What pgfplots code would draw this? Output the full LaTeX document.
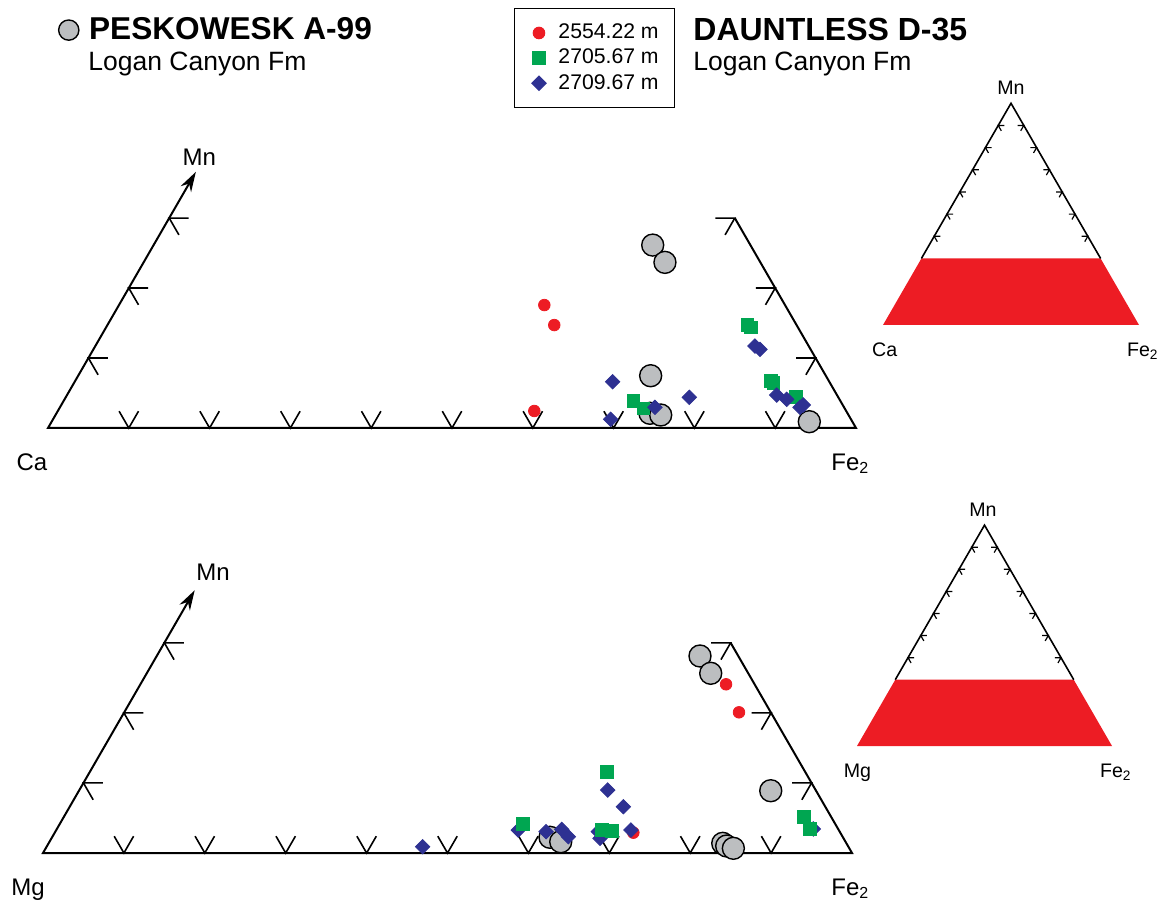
\documentclass[border=0pt]{standalone}
\usepackage{fontspec}
\setmainfont{Liberation Sans}
\usepackage{pgfplots}
\usepackage{pgfplotstable}
\pgfplotsset{compat=1.18}
\usetikzlibrary{arrows.meta}

\definecolor{cred}{HTML}{ED1C24}
\definecolor{cgreen}{HTML}{00A651}
\definecolor{cblue}{HTML}{2E3192}
\definecolor{cgray}{HTML}{BCBEC0}

% compositions in percent: fe = Fe2, mn = Mn (rest = Ca or Mg)
\pgfplotstableread{
fe mn
61.77 26.14
64.52 23.67
70.85 7.47
73.45 2.10
74.90 1.86
93.77 0.90
}\topgray
\pgfplotstableread{
fe mn
52.64 17.57
55.30 14.71
58.97 2.43
}\topred
\pgfplotstableread{
fe mn
79.20 14.71
79.77 14.39
86.06 6.76
86.57 6.39
90.38 4.39
70.49 3.90
72.27 2.81
}\topgreen
\pgfplotstableread{
fe mn
66.58 6.61
69.02 1.24
73.64 2.96
77.17 4.39
81.64 11.71
82.50 11.24
87.83 4.71
89.37 4.10
91.59 2.96
91.83 3.29
}\topblue

\pgfplotstableread{
fe mn
67.15 28.12
69.71 25.65
85.51 8.89
83.33 1.38
84.01 1.00
85.00 0.67
61.55 2.24
63.19 1.61
}\botgray
\pgfplotstableread{
fe mn
72.39 24.08
75.99 20.08
71.52 2.90
}\botred
\pgfplotstableread{
fe mn
57.23 4.14
63.88 11.60
67.42 3.28
68.73 3.14
91.48 5.18
93.10 3.43
}\botgreen
\pgfplotstableread{
fe mn
46.48 0.90
57.11 3.28
60.66 3.04
62.43 3.38
63.77 2.33
65.31 8.99
68.43 6.61
71.04 3.28
67.80 2.10
67.12 3.04
93.50 3.43
}\botblue

\pgfplotsset{
  tern/.style={hide axis, clip=false, xmin=0, xmax=100, ymin=0, ymax=40, anchor=south west},
  table/tx/.style={x expr=\thisrow{fe}+0.5*\thisrow{mn}, y expr=0.8660254*\thisrow{mn}},
  graypts/.style={only marks, mark=*, mark size=5.5pt, mark options={fill=cgray, draw=black, line width=0.7pt}},
  redpts/.style={only marks, mark=*, mark size=2.9pt, color=cred},
  greenpts/.style={only marks, mark=square*, mark size=3.2pt, color=cgreen},
  bluepts/.style={only marks, mark=square*, mark size=2.55pt, color=cblue, mark options={rotate=45}},
}
\tikzset{tk/.style={line width=0.8pt}, stk/.style={line width=0.6pt}}
\newcommand\vtick[1]{\draw[tk] (#1,0) +(-1.2,2.078) -- (#1,0) -- +(1.2,2.078);}
\newcommand\ltick[2]{\draw[tk] (#1,#2) +(2.4,0) -- (#1,#2) -- +(1.2,-2.078);}
\newcommand\rtick[2]{\draw[tk] (#1,#2) +(-2.4,0) -- (#1,#2) -- +(-1.2,-2.078);}
\newcommand\sltick[2]{\draw[stk] (#1,#2) +(2.4,0) -- (#1,#2) -- +(1.2,-2.078);}
\newcommand\srtick[2]{\draw[stk] (#1,#2) +(-2.4,0) -- (#1,#2) -- +(-1.2,-2.078);}
\newcommand\mainframe[1]{%
  \draw[line width=1pt, {Stealth[length=10pt,width=6pt]}-] (#1) -- (0,0) -- (100,0) -- (85,25.981);
  \vtick{10}\vtick{20}\vtick{30}\vtick{40}\vtick{50}\vtick{60}\vtick{70}\vtick{80}\vtick{90}
  \ltick{5}{8.660}\ltick{10}{17.321}\ltick{15}{25.981}
  \rtick{95}{8.660}\rtick{90}{17.321}\rtick{85}{25.981}}
\newcommand\smallframe{%
  \addplot[fill=cred, draw=none] coordinates {(0,0) (100,0) (85,25.981) (15,25.981) (0,0)};
  \draw[line width=0.8pt] (15,25.981) -- (50,86.603) -- (85,25.981);
  \sltick{20}{34.641}\sltick{25}{43.301}\sltick{30}{51.962}\sltick{35}{60.622}\sltick{40}{69.282}\sltick{45}{77.942}
  \srtick{80}{34.641}\srtick{75}{43.301}\srtick{70}{51.962}\srtick{65}{60.622}\srtick{60}{69.282}\srtick{55}{77.942}}

\begin{document}
\begin{tikzpicture}
\path[use as bounding box] (0,0) rectangle (586pt,-454pt);

% ---------- top main ternary (Ca - Fe2 - Mn)
\begin{axis}[tern, at={(24pt,-214pt)}, x=4.04pt, y=4.04pt,
  legend image code/.code={\path (-4pt,0pt) (4pt,0pt); \draw[#1] plot coordinates {(0pt,0pt)};},
  legend cell align=left,
  legend style={at={(0.5767,1.2995)}, anchor=north west, draw=black, line width=0.5pt, fill=white,
    inner xsep=8pt, inner ysep=7.8pt, row sep=3.65pt, nodes={inner sep=0pt},
    font=\fontsize{10.6}{12.7}\selectfont,
    /tikz/every odd column/.append style={column sep=5.5pt}},
]
\mainframe{18.3,31.7}
\addplot[graypts, forget plot] table[tx] {\topgray};
\addplot[redpts] table[tx] {\topred};
\addlegendentry{2554.22 m}
\addplot[greenpts] table[tx] {\topgreen};
\addlegendentry{2705.67 m}
\addplot[bluepts] table[tx] {\topblue};
\addlegendentry{2709.67 m}
\end{axis}

% ---------- bottom main ternary (Mg - Fe2 - Mn)
\begin{axis}[tern, at={(21.5pt,-426.5pt)}, x=4.045pt, y=4.045pt,
  legend image code/.code={\path (-5pt,0pt) (5pt,0pt); \draw[#1,/tikz/every mark/.append style={scale=0.92}] plot coordinates {(0pt,0pt)};},
  legend cell align=left,
  legend style={at={(0.0185,2.543)}, anchor=west, draw=none, fill=none, inner sep=0pt,
    nodes={inner sep=0pt}, font=\bfseries\fontsize{15.8}{18}\selectfont,
    /tikz/every odd column/.append style={column sep=5pt}},
]
\mainframe{18.75,32.476}
\addplot[graypts] table[tx] {\botgray};
\addlegendentry{PESKOWESK A-99}
\addplot[redpts, forget plot] table[tx] {\botred};
\addplot[bluepts, forget plot] table[tx] {\botblue};
\addplot[greenpts, forget plot] table[tx] {\botgreen};
\end{axis}

% ---------- small reference triangles
\begin{axis}[hide axis, clip=false, xmin=0, xmax=100, ymin=0, ymax=87, anchor=south west,
  at={(441.5pt,-162.5pt)}, x=1.28pt, y=1.28pt]
\smallframe
\end{axis}
\begin{axis}[hide axis, clip=false, xmin=0, xmax=100, ymin=0, ymax=87, anchor=south west,
  at={(428.5pt,-373pt)}, x=1.275pt, y=1.275pt]
\smallframe
\end{axis}

% ---------- texts
\node[anchor=base west, inner sep=0pt, font=\fontsize{13.25}{15}\selectfont] at (44pt,-35.5pt) {Logan Canyon Fm};
\node[anchor=west, inner sep=0pt, font=\bfseries\fontsize{16}{18}\selectfont] at (346.5pt,-15pt) {DAUNTLESS D-35};
\node[anchor=base west, inner sep=0pt, font=\fontsize{13.25}{15}\selectfont] at (346.5pt,-35.5pt) {Logan Canyon Fm};

\begin{scope}[every node/.style={inner sep=0pt, font=\fontsize{12}{14}\selectfont}]
\node at (16pt,-231pt) {Ca};
\node[anchor=base west] at (415.5pt,-235.25pt) {Fe{\fontsize{8}{9}\selectfont\raisebox{-0.3ex}{2}}};
\node at (99.65pt,-78.5pt) {Mn};
\node[anchor=base] at (14pt,-447.75pt) {Mg};
\node[anchor=base west] at (415.5pt,-447.75pt) {Fe{\fontsize{8}{9}\selectfont\raisebox{-0.3ex}{2}}};
\node at (106.5pt,-286pt) {Mn};
\end{scope}
\begin{scope}[every node/.style={inner sep=0pt, font=\fontsize{9.8}{11}\selectfont}]
\node at (505.5pt,-44pt) {Mn};
\node[anchor=base] at (442.35pt,-178.35pt) {Ca};
\node[anchor=base west] at (563.35pt,-178.35pt) {Fe\textsubscript{2}};
\node at (491.5pt,-255pt) {Mn};
\node[anchor=base] at (428.75pt,-388.85pt) {Mg};
\node[anchor=base west] at (549.85pt,-388.85pt) {Fe\textsubscript{2}};
\end{scope}
\end{tikzpicture}
\end{document}
